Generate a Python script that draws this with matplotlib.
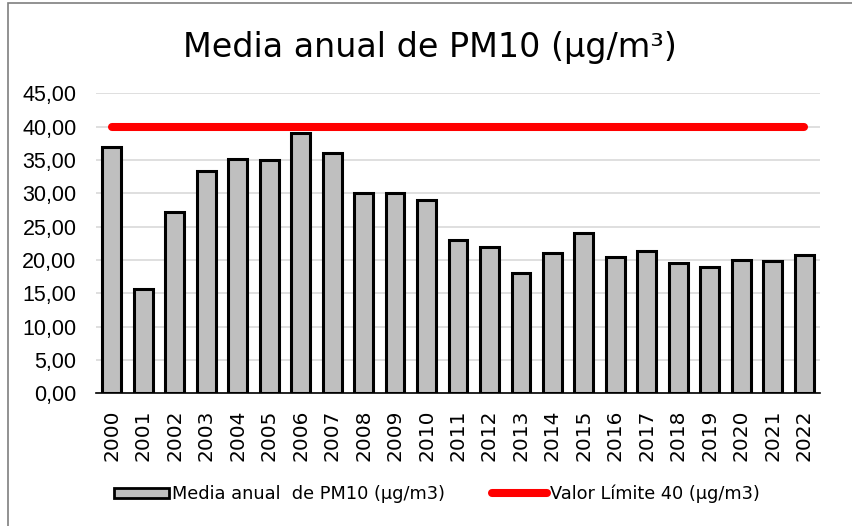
import matplotlib
matplotlib.use("Agg")
import matplotlib.pyplot as plt
from matplotlib.patches import Rectangle, Patch
from matplotlib.lines import Line2D

years = ["2000", "2001", "2002", "2003", "2004", "2005", "2006", "2007", "2008",
         "2009", "2010", "2011", "2012", "2013", "2014", "2015", "2016", "2017",
         "2018", "2019", "2020", "2021", "2022"]
pm10 = [37.0, 15.6, 27.2, 33.3, 35.2, 35.0, 39.0, 36.0, 30.0, 30.0, 29.0, 23.0,
        22.0, 18.0, 21.0, 24.1, 20.5, 21.3, 19.6, 19.0, 20.0, 19.9, 20.7]
limit_value = 40
yticks = [0, 5, 10, 15, 20, 25, 30, 35, 40, 45]
ytick_labels = ["0,00", "5,00", "10,00", "15,00", "20,00", "25,00", "30,00",
                "35,00", "40,00", "45,00"]
title = "Media anual de PM10 (µg/m³)"
bar_label = "Media anual  de PM10 (µg/m3)"
line_label = "Valor Límite 40 (µg/m3)"

W, H = 853, 526
fig = plt.figure(figsize=(W / 100, H / 100), dpi=100)
fig.patch.set_facecolor("white")

ax = fig.add_axes([96 / W, 1 - 393.3 / H, (820 - 96) / W, 300 / H])
x = list(range(len(years)))
ax.bar(x, pm10, width=0.6, color="#BFBFBF", edgecolor="black", linewidth=2.2, zorder=3)
ax.plot(x, [limit_value] * len(x), color="#FF0000", linewidth=5.8,
        solid_capstyle="round", zorder=4)

ax.set_xlim(-0.5, len(years) - 0.5)
ax.set_ylim(0, 45)
ax.set_yticks(yticks)
ax.set_yticklabels(ytick_labels, fontfamily="Liberation Sans", fontsize=15.5)
ax.set_xticks(x)
ax.set_xticklabels(years, rotation=90, fontfamily="DejaVu Sans", fontsize=14.5)
ax.tick_params(axis="both", length=0)
ax.tick_params(axis="y", pad=14)
ax.tick_params(axis="x", pad=12)
ax.grid(axis="y", color="#D9D9D9", linewidth=1.2, zorder=0)
for s in ["left", "right", "top"]:
    ax.spines[s].set_visible(False)
ax.spines["bottom"].set_color("black")
ax.spines["bottom"].set_linewidth(1.2)
ax.spines["bottom"].set_zorder(5)

fig.text(430 / W, 1 - 47 / H, title, ha="center", va="center",
         fontfamily="DejaVu Sans", fontsize=24)

handles = [Patch(facecolor="#BFBFBF", edgecolor="black", linewidth=2.0),
           Line2D([0], [0], color="#FF0000", linewidth=5.8, solid_capstyle="round")]
fig.legend(handles, [bar_label, line_label], loc="center",
           bbox_to_anchor=(437 / W, 1 - 494 / H), ncol=2, frameon=False,
           prop={"family": "DejaVu Sans", "size": 12.8}, handlelength=3.1,
           handleheight=0.55, handletextpad=0.2, columnspacing=2.6)

fig.add_artist(Rectangle((8 / W, -0.1), 1.2, 1 - 3 / H + 0.1, transform=fig.transFigure,
                         fill=False, edgecolor="#7F7F7F", linewidth=1.2))

fig.savefig("out.png", dpi=100)
